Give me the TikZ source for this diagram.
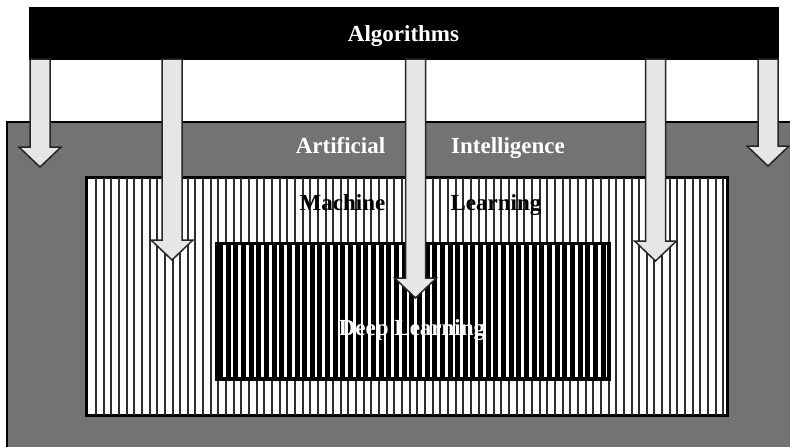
\documentclass[tikz,border=0pt]{standalone}
\usepackage{fontspec}
\setmainfont{Liberation Serif}
\usetikzlibrary{calc}

\definecolor{aigray}{RGB}{115,115,115}
\definecolor{arrowfill}{RGB}{230,230,230}
\definecolor{hatchdark}{RGB}{45,45,45}

\tikzset{
  region/.style={draw=black, rectangle, inner sep=0pt, line width=2pt},
  label/.style={font=\bfseries\fontsize{23}{27}\selectfont, inner sep=0pt, anchor=base},
  blockarrow/.style={draw=black!85, fill=arrowfill, line width=1.5pt, line join=miter},
  thinhatch/.style={draw=hatchdark, line width=2pt},
  thickhatch/.style={draw=black, line width=5pt},
}

\begin{document}
\begin{tikzpicture}[x=1pt, y=-1pt]
  \useasboundingbox (0,0) rectangle (790,447);
  \clip (0,0) rectangle (790,447);
  \fill[white] (0,0) rectangle (790,447);

  % outer field: artificial intelligence
  \node[region, fill=aigray, minimum width=793pt, minimum height=338pt] (ai) at (403.5,291) {};

  % machine learning field with fine vertical hatching
  \node[region, fill=white, minimum width=640pt, minimum height=237pt] (ml) at (407,296.5) {};
  \begin{scope}
    \clip (ml.south west) rectangle (ml.north east);
    \foreach \i in {0,...,84} {
      \draw[thinhatch] (96+7.65*\i,170) -- (96+7.65*\i,420);
    }
  \end{scope}
  \draw[black, line width=2.5pt] (ml.south west) rectangle (ml.north east);

  % deep learning field with heavy vertical hatching
  \node[region, fill=white, minimum width=391pt, minimum height=134pt] (dl) at (412.5,311) {};
  \begin{scope}
    \clip (dl.south west) rectangle (dl.north east);
    \foreach \i in {0,...,52} {
      \draw[thickhatch] (220.5+7.65*\i,240) -- (220.5+7.65*\i,382);
    }
  \end{scope}
  \draw[black, line width=3pt] (dl.south west) rectangle (dl.north east);

  % algorithms bar
  \node[fill=black, draw=black, rectangle, inner sep=0pt, minimum width=749pt, minimum height=52pt] (algo) at (403.5,33) {};
  \node[label, text=white] (algotext) at (403.5,41) {Algorithms};

  % arrows from the algorithms bar down into each field
  \foreach \n/\x/\t in {1/40/167, 2/172/260, 3/415.5/298, 4/655.5/261, 5/768/166} {
    \coordinate (tip\n) at (\x,\t);
    \draw[blockarrow] (\x-10,59) -- (\x-10,\t-20) -- (\x-21,\t-20) -- (tip\n)
      -- (\x+21,\t-20) -- (\x+10,\t-20) -- (\x+10,59) -- cycle;
  }

  % field titles
  \node[label, text=white] (aiword1) at (340.5,153) {Artificial};
  \node[label, text=white] (aiword2) at (508,153) {Intelligence};
  \node[label, text=black] (mlword1) at (342.5,210) {Machine};
  \node[label, text=black] (mlword2) at (496,210) {Learning};
  \node[label, text=white] (dltext) at (412,335) {Deep Learning};
\end{tikzpicture}
\end{document}
